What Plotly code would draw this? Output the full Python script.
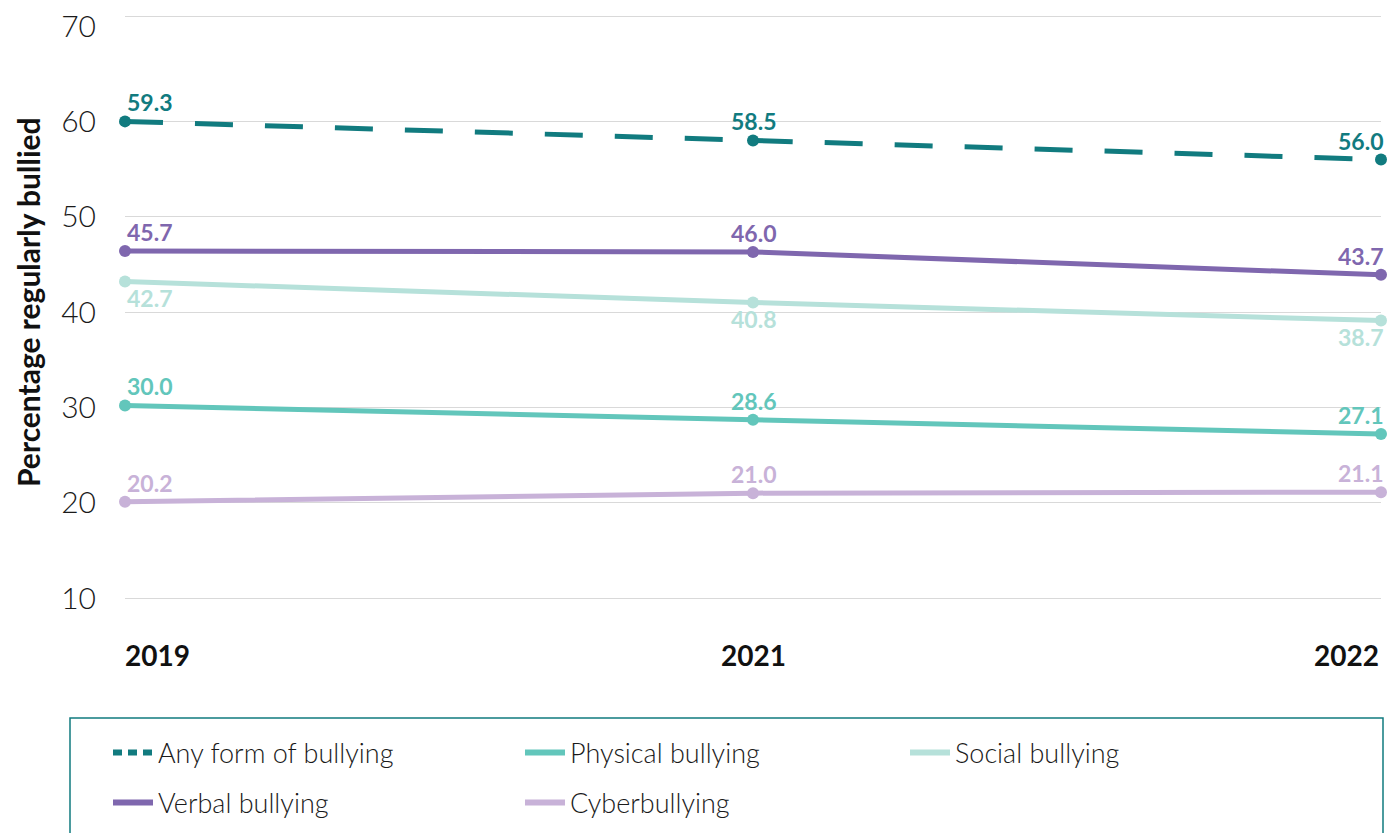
import plotly.graph_objects as go

years = ["2019", "2021", "2022"]

series_names = ["Any form of bullying", "Physical bullying", "Social bullying",
                "Verbal bullying", "Cyberbullying"]

# plotted positions
any_form = [60.0, 58.0, 56.0]
physical = [30.2, 28.7, 27.2]
social = [43.2, 41.0, 39.1]
verbal = [46.4, 46.3, 43.9]
cyber = [20.1, 21.0, 21.1]

# printed labels
any_form_lbl = ["59.3", "58.5", "56.0"]
physical_lbl = ["30.0", "28.6", "27.1"]
social_lbl = ["42.7", "40.8", "38.7"]
verbal_lbl = ["45.7", "46.0", "43.7"]
cyber_lbl = ["20.2", "21.0", "21.1"]

y_ticks = [10, 20, 30, 40, 50, 60, 70]
grid_ticks = [10, 20, 30, 40, 50, 60]

colors = {
    "Any form of bullying": "#117b7f",
    "Physical bullying": "#62c6bb",
    "Social bullying": "#b6e1da",
    "Verbal bullying": "#7f67ae",
    "Cyberbullying": "#c8b2d8",
}

FONT = "Lato"

# page body margin offsets the figure by 8px on screen
OFF = 8
W, H = 1400, 833
L = 125 - OFF
T = 17 - OFF
R = W - (1381 - OFF)
B = H - (598 - OFF)
PW, PH = W - L - R, H - T - B


def px_x(p):
    return (p - OFF - L) / PW


def px_y(p):
    return (H - B - (p - OFF)) / PH


fig = go.Figure()

series = [
    ("Any form of bullying", any_form, any_form_lbl, "above", "38px,32px"),
    ("Physical bullying", physical, physical_lbl, "above", "solid"),
    ("Social bullying", social, social_lbl, "below", "solid"),
    ("Verbal bullying", verbal, verbal_lbl, "above", "solid"),
    ("Cyberbullying", cyber, cyber_lbl, "above", "solid"),
]

anchors = ["left", "center", "right"]
xshifts = [0, 0, 4]

for name, vals, lbls, where, dash in series:
    c = colors[name]
    fig.add_trace(go.Scatter(
        x=years, y=vals, name=name, mode="lines+markers", showlegend=False,
        line=dict(color=c, width=5, dash=dash),
        marker=dict(color=c, size=12),
        cliponaxis=False,
    ))
    for i, (v, t) in enumerate(zip(vals, lbls)):
        fig.add_annotation(
            x=i, y=v, xref="x", yref="y", text=t, showarrow=False,
            xanchor=anchors[i],
            yanchor="bottom" if where == "above" else "top",
            yshift=3 if where == "above" else 0,
            xshift=xshifts[i],
            font=dict(family=FONT, size=23, color=c, weight=700))

# legend entries (lines only), one small legend per entry
legend_pos = [(110, 753), (522, 753), (907, 753), (110, 803), (522, 803)]
legend_ids = ["legend", "legend2", "legend3", "legend4", "legend5"]
for i, name in enumerate(series_names):
    dash = "9px,6px" if i == 0 else "solid"
    fig.add_trace(go.Scatter(
        x=[None], y=[None], mode="lines", name=name, legend=legend_ids[i],
        line=dict(color=colors[name], width=6, dash=dash), hoverinfo="skip"))

# invisible trace on secondary y axis for the labelled axis
fig.add_trace(go.Scatter(x=years, y=[None, None, None], yaxis="y2",
                         showlegend=False, hoverinfo="skip"))

yrange = [10, 70.95]

leg_common = dict(orientation="h", xanchor="left", yanchor="middle",
                  bgcolor="rgba(0,0,0,0)", borderwidth=0, itemwidth=40,
                  font=dict(family=FONT, size=27, color="#1a1a1a", weight=300))
legends = {}
for lid, (lx, ly) in zip(legend_ids, legend_pos):
    legends[lid] = dict(leg_common, x=px_x(lx - 2), y=px_y(ly))

fig.update_layout(
    width=W, height=H,
    margin=dict(l=L, r=R, t=T, b=B, autoexpand=False),
    paper_bgcolor="white", plot_bgcolor="white",
    font=dict(family=FONT, color="#1a1a1a"),
    xaxis=dict(type="category", range=[0, 2], showgrid=False,
               showticklabels=False, showline=True, mirror=True,
               linecolor="#d9d9d9", linewidth=1, zeroline=False),
    yaxis=dict(range=yrange, tickvals=grid_ticks, showticklabels=False,
               showgrid=True, gridcolor="#d9d9d9", gridwidth=1, zeroline=False),
    yaxis2=dict(range=yrange, overlaying="y", side="left", tickvals=y_ticks,
                showgrid=False, zeroline=False, ticklabelstandoff=28,
                ticklabeloverflow="allow",
                tickfont=dict(family=FONT, size=30, color="#1a1a1a", weight=300)),
    showlegend=True,
    **legends,
)

# legend frame
fig.add_shape(type="rect", xref="paper", yref="paper",
              x0=px_x(70), x1=px_x(1383), y0=px_y(718), y1=px_y(860),
              line=dict(color="#117b7f", width=1.5), fillcolor="rgba(0,0,0,0)")

for i, (yr, a) in enumerate(zip(years, anchors)):
    fig.add_annotation(x=i, y=px_y(655), xref="x", yref="paper", text=yr,
                       showarrow=False, xanchor=a, yanchor="middle",
                       xshift=-2 if i == 0 else 0,
                       font=dict(family=FONT, size=28, color="#111111", weight=700))

fig.add_annotation(x=px_x(28), y=px_y(302), xref="paper", yref="paper",
                   text="Percentage regularly bullied", textangle=-90,
                   showarrow=False, xanchor="center", yanchor="middle",
                   font=dict(family=FONT, size=30, color="#111111", weight=700))

fig.write_html("out.html")
